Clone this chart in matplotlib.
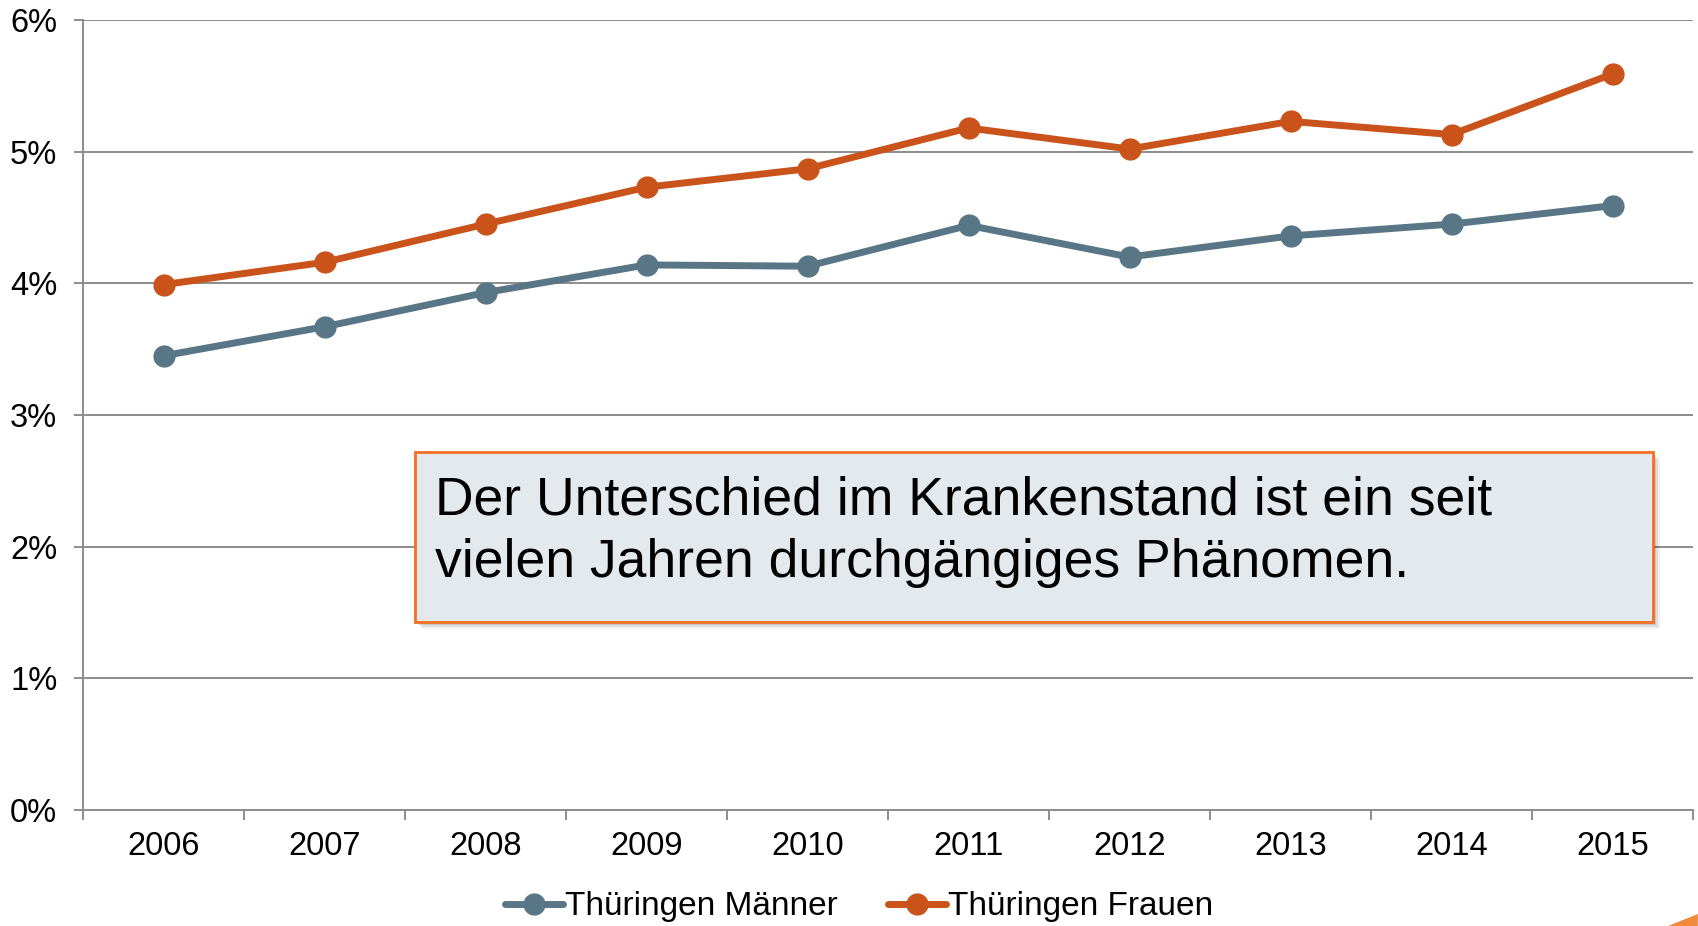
import matplotlib
matplotlib.use("Agg")
import matplotlib.pyplot as plt
from matplotlib.patches import Rectangle, Polygon
from matplotlib.ticker import FuncFormatter, FixedLocator

plt.rcParams['font.family'] = ['Liberation Sans', 'DejaVu Sans']

# Daten
jahre = ['2006', '2007', '2008', '2009', '2010', '2011', '2012', '2013', '2014', '2015']
maenner = [3.45, 3.67, 3.93, 4.14, 4.13, 4.44, 4.20, 4.36, 4.45, 4.59]
frauen = [3.99, 4.16, 4.45, 4.73, 4.87, 5.18, 5.02, 5.23, 5.13, 5.59]
y_ticks = [0, 1, 2, 3, 4, 5, 6]
hinweis = "Der Unterschied im Krankenstand ist ein seit\nvielen Jahren durchgängiges Phänomen."

col_m = '#587686'
col_f = '#C9531A'
grid_col = '#8C8C8C'

W, H = 1698, 926
fig = plt.figure(figsize=(W / 100, H / 100), dpi=100)
ax = fig.add_axes([83 / W, 1 - 810 / H, 1610 / W, 790 / H])

x = list(range(len(jahre)))
ax.plot(x, maenner, color=col_m, lw=5, marker='o', ms=15, label='Thüringen Männer',
        solid_capstyle='round', zorder=3)
ax.plot(x, frauen, color=col_f, lw=5, marker='o', ms=15, label='Thüringen Frauen',
        solid_capstyle='round', zorder=3)

ax.set_xlim(-0.5, len(jahre) - 0.5)
ax.set_ylim(0, 6)
ax.set_yticks(y_ticks)
ax.yaxis.set_major_formatter(FuncFormatter(lambda v, p: f"{int(v)}%"))
ax.set_xticks(x)
ax.set_xticklabels(jahre)
ax.xaxis.set_minor_locator(FixedLocator([i - 0.5 for i in range(len(jahre) + 1)]))

ax.grid(axis='y', color=grid_col, lw=1.4, zorder=0)
for s in ['top', 'right']:
    ax.spines[s].set_visible(False)
for s in ['left', 'bottom']:
    ax.spines[s].set_color(grid_col)
    ax.spines[s].set_linewidth(1.4)

ax.tick_params(axis='y', length=6.5, width=1.4, color=grid_col, pad=12, labelsize=23.5)
ax.tick_params(axis='x', which='major', length=0, pad=15, labelsize=23.5)
ax.tick_params(axis='x', which='minor', length=7, width=1.4, color=grid_col)

# Hinweisbox mit Schatten
bx, by, bw, bh = 415, 452, 1238, 170
for off, a in [(7, 0.06), (5, 0.08), (3, 0.1)]:
    fig.patches.append(Rectangle(((bx + off) / W, 1 - (by + bh + off) / H), bw / W, bh / H,
                                 transform=fig.transFigure, facecolor='#000000', alpha=a,
                                 edgecolor='none', zorder=4))
fig.patches.append(Rectangle((bx / W, 1 - (by + bh) / H), bw / W, bh / H,
                             transform=fig.transFigure, facecolor='#E4E9EE',
                             edgecolor='#F36F21', lw=2, zorder=5))
fig.text(435 / W, 1 - 532 / H, hinweis, fontsize=38.5, va='center', ha='left',
         linespacing=1.33, color='black', zorder=6)

# Dekoratives Dreieck unten rechts
fig.patches.append(Polygon([(1668 / W, 0), (1 - 0.0001, 12 / H), (1 - 0.0001, 0)],
                           closed=True, transform=fig.transFigure,
                           facecolor='#F08A3C', edgecolor='none'))

leg = ax.legend(loc='center', bbox_to_anchor=(859 / W, 1 - 907 / H),
                bbox_transform=fig.transFigure, ncol=2, frameon=False,
                handlelength=1.75, handletextpad=0.05, columnspacing=1.5,
                prop={'size': 24})

fig.savefig('out.png', dpi=100)
